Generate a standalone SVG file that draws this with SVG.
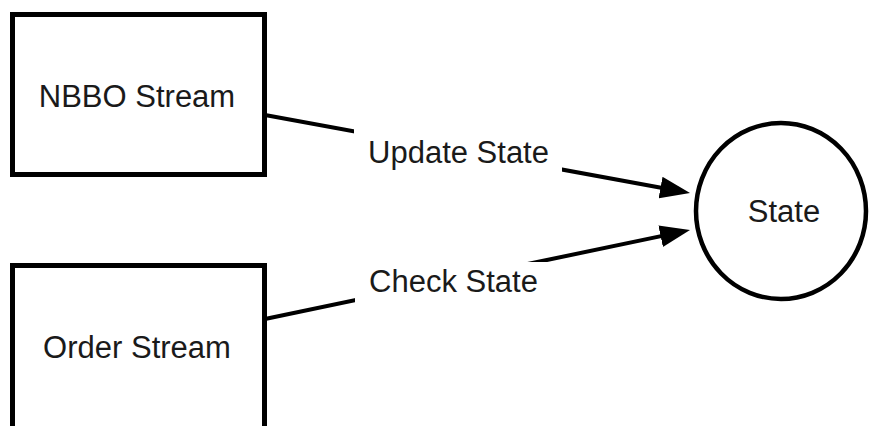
<svg xmlns="http://www.w3.org/2000/svg" width="869" height="426" viewBox="0 0 869 426">
<style>
.box{fill:#fff;stroke:#000;stroke-width:5}
.circ{fill:#fff;stroke:#000;stroke-width:4.5}
.lbl{font-family:"Liberation Sans",Arial,sans-serif;font-size:31px;fill:#1a1a1a;text-anchor:middle}
.edge{stroke:#000;stroke-width:4;fill:none}
.bg{fill:#fff}
</style>
<defs>
<marker id="arr" markerUnits="userSpaceOnUse" markerWidth="30" markerHeight="22" refX="20" refY="11" orient="auto">
<path d="M0,0 L30,11 L0,22 z" fill="#000"/>
</marker>
</defs>
<rect width="869" height="426" fill="#fff"/>
<g id="edges">
<line class="edge" x1="265" y1="115" x2="680.2" y2="191.2" marker-end="url(#arr)"/>
<line class="edge" x1="265" y1="319" x2="680.2" y2="232.1" marker-end="url(#arr)"/>
<rect class="bg" x="354" y="120" width="208" height="55"/>
<text class="lbl" x="458.5" y="163">Update State</text>
<rect class="bg" x="355" y="262" width="197" height="50"/>
<text class="lbl" x="453.5" y="292">Check State</text>
</g>
<g id="nbbo">
<rect class="box" x="12.5" y="14.5" width="252" height="160"/>
<text class="lbl" x="137" y="107">NBBO Stream</text>
</g>
<g id="order">
<rect class="box" x="12.5" y="265.5" width="252" height="200"/>
<text class="lbl" x="137" y="358">Order Stream</text>
</g>
<g id="state">
<ellipse class="circ" cx="781" cy="211" rx="85" ry="88"/>
<text class="lbl" x="784" y="222">State</text>
</g>
</svg>
